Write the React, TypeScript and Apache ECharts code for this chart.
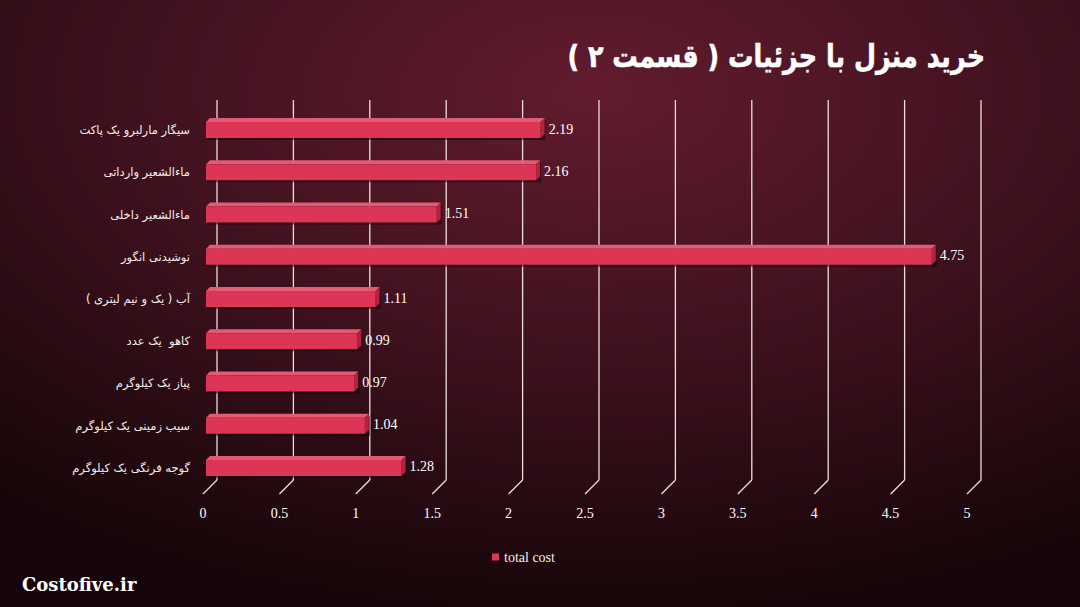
import React, { useEffect, useRef } from "react";
import * as echarts from "echarts";

const titleText = "خرید منزل با جزئیات ( قسمت ۲ )";
const watermark = "Costofive.ir";
const seriesName = "total cost";

const categories = [
  "سیگار مارلبرو یک پاکت",
  "ماءالشعیر وارداتی",
  "ماءالشعیر داخلی",
  "نوشیدنی انگور",
  "آب ( یک و نیم لیتری )",
  "کاهو  یک عدد",
  "پیاز یک کیلوگرم",
  "سیب زمینی یک کیلوگرم",
  "گوجه فرنگی یک کیلوگرم",
];
const values = [2.19, 2.16, 1.51, 4.75, 1.11, 0.99, 0.97, 1.04, 1.28];
const ticks = [0, 0.5, 1, 1.5, 2, 2.5, 3, 3.5, 4, 4.5, 5];

export default function App() {
  const ref = useRef<HTMLDivElement>(null);
  useEffect(() => {
    if (!ref.current) return;
    const chart = echarts.init(ref.current, undefined, { renderer: "svg" });
    const option: any = {
      animation: false,
      backgroundColor: {
        type: "radial",
        x: 0.55,
        y: 0.15,
        r: 0.85,
        colorStops: [
          { offset: 0, color: "#611c2e" },
          { offset: 0.45, color: "#431220" },
          { offset: 1, color: "#170609" },
        ],
      },
      grid: { left: 203, right: 113, top: 109, bottom: 118 },
      legend: {
        data: [seriesName],
        left: 487,
        top: 545,
        icon: "rect",
        itemWidth: 7,
        itemHeight: 7,
        itemGap: 4,
        textStyle: { color: "#f4eeee", fontFamily: "Liberation Serif", fontSize: 14 },
      },
      xAxis: {
        type: "value",
        min: 0,
        max: 5,
        interval: 0.5,
        axisLine: { show: false },
        axisTick: { show: false },
        splitLine: { show: false },
        axisLabel: { color: "#ffffff", fontFamily: "Liberation Serif", fontSize: 14, margin: 17 },
      },
      yAxis: {
        type: "category",
        inverse: true,
        data: categories,
        axisLine: { show: false },
        axisTick: { show: false },
        axisLabel: { color: "#f4eeee", fontFamily: "DejaVu Sans", fontSize: 11.5, margin: 13 },
      },
      graphic: [
        {
          type: "text",
          x: 985,
          y: 57,
          scaleX: 0.82,
          style: {
            text: titleText,
            x: 0,
            y: 0,
            align: "right",
            verticalAlign: "middle",
            fill: "#ffffff",
            stroke: "#ffffff",
            lineWidth: 0.6,
            font: "bold 31px 'DejaVu Sans'",
            shadowColor: "rgba(0,0,0,0.75)",
            shadowBlur: 4,
            shadowOffsetX: 2,
            shadowOffsetY: 2,
          },
        },
        {
          type: "text",
          left: 22,
          top: 575,
          style: {
            text: watermark,
            fill: "#ffffff",
            font: "bold 18px 'DejaVu Serif'",
          },
        },
      ],
      series: [
        {
          type: "custom",
          name: "grid",
          silent: true,
          z: 1,
          clip: false,
          data: ticks.map((t) => [t, 0]),
          encode: { x: 0, y: 1 },
          renderItem: (params: any, api: any) => {
            const x = api.coord([api.value(0), 0])[0];
            const cs = params.coordSys;
            const yb = cs.y + cs.height - 9;
            const st = { stroke: "#eadede", lineWidth: 1.3 };
            return {
              type: "group",
              children: [
                { type: "line", shape: { x1: x + 14, y1: cs.y - 9, x2: x + 14, y2: yb }, style: st },
                { type: "line", shape: { x1: x + 14, y1: yb, x2: x, y2: yb + 14 }, style: st },
              ],
            };
          },
        },
        {
          type: "custom",
          name: seriesName,
          z: 3,
          clip: false,
          itemStyle: { color: "#dc3555" },
          data: values.map((v, i) => [v, i]),
          encode: { x: 0, y: 1 },
          renderItem: (params: any, api: any) => {
            const v = api.value(0);
            const i = api.value(1);
            const s = api.coord([0, i]);
            const e = api.coord([v, i]);
            const x0 = s[0] + 3;
            const xe = e[0] + 3;
            const c = s[1];
            const top = c - 8;
            const bot = c + 8;
            const d = 4;
            return {
              type: "group",
              children: [
                {
                  type: "rect",
                  shape: { x: x0 + 1, y: top - d + 2, width: xe - x0 + d, height: bot - top + d },
                  style: { fill: "rgba(20,0,5,0.55)" },
                },
                {
                  type: "polygon",
                  shape: { points: [[x0, top], [x0 + d, top - d], [xe + d, top - d], [xe, top]] },
                  style: { fill: "#e45a74" },
                },
                {
                  type: "polygon",
                  shape: { points: [[xe, top], [xe + d, top - d], [xe + d, bot - d], [xe, bot]] },
                  style: { fill: "#b3223f" },
                },
                {
                  type: "rect",
                  shape: { x: x0, y: top, width: xe - x0, height: bot - top },
                  style: { fill: "#dc3555" },
                },
                {
                  type: "text",
                  style: {
                    text: v.toFixed(2),
                    x: xe + d + 4,
                    y: c - 1,
                    fill: "#ffffff",
                    font: "14px 'Liberation Serif'",
                    textVerticalAlign: "middle",
                    textAlign: "left",
                  },
                },
              ],
            };
          },
        },
      ],
    };
    chart.setOption(option);
    return () => chart.dispose();
  }, []);
  return (
    <div
      ref={ref}
      style={{ position: "absolute", left: 0, top: 0, width: 1080, height: 607 }}
    />
  );
}
